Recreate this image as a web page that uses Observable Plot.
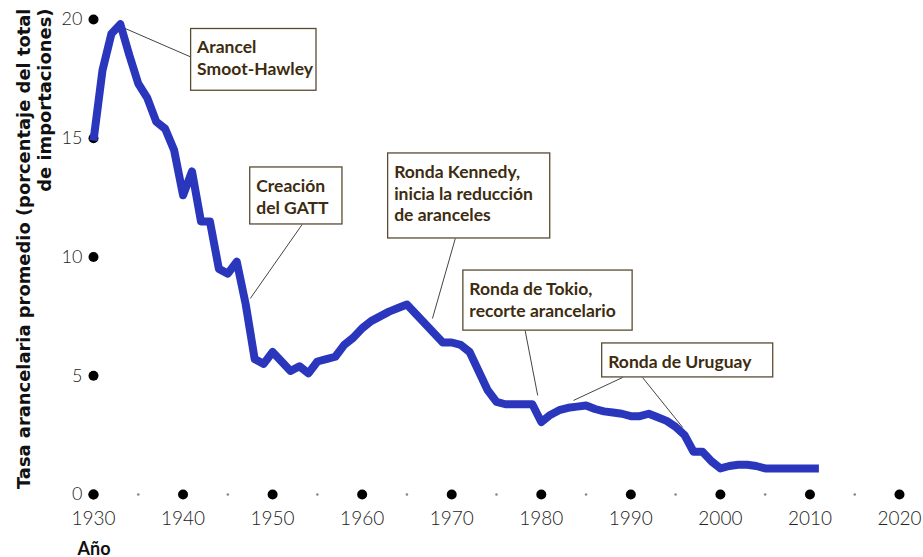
<!DOCTYPE html>
<html>
<head>
<meta charset="utf-8">
<script src="https://cdn.jsdelivr.net/npm/d3@7"></script>
<script src="https://cdn.jsdelivr.net/npm/@observablehq/plot@0.6"></script>
<style>
  body { margin: 0; background: #fff; }
  #chart svg { display: block; }
</style>
</head>
<body>
<div id="chart"></div>
<script>
// Average tariff rate (% of total imports)
const years = [1930, 1931, 1932, 1933, 1934, 1935, 1936, 1937, 1938, 1939,
               1940, 1941, 1942, 1943, 1944, 1945, 1946, 1947, 1948, 1949,
               1950, 1951, 1952, 1953, 1954, 1955, 1956, 1957, 1958, 1959,
               1960, 1961, 1962, 1963, 1964, 1965, 1966, 1967, 1968, 1969,
               1970, 1971, 1972, 1973, 1974, 1975, 1976, 1977, 1978, 1979,
               1980, 1981, 1982, 1983, 1984, 1985, 1986, 1987, 1988, 1989,
               1990, 1991, 1992, 1993, 1994, 1995, 1996, 1997, 1998, 1999,
               2000, 2001, 2002, 2003, 2004, 2005, 2006, 2007, 2008, 2009,
               2010, 2011];
const tariff = [14.9, 17.85, 19.4, 19.8, 18.5, 17.3, 16.7, 15.7, 15.4, 14.5,
                12.6, 13.6, 11.5, 11.5, 9.5, 9.3, 9.8, 8.0, 5.7, 5.5,
                6.0, 5.6, 5.2, 5.4, 5.1, 5.6, 5.7, 5.8, 6.3, 6.6,
                7.0, 7.3, 7.5, 7.7, 7.85, 8.0, 7.6, 7.2, 6.8, 6.4,
                6.4, 6.3, 6.0, 5.2, 4.4, 3.9, 3.8, 3.8, 3.8, 3.8,
                3.05, 3.35, 3.55, 3.65, 3.7, 3.75, 3.6, 3.5, 3.45, 3.4,
                3.3, 3.3, 3.4, 3.25, 3.1, 2.85, 2.5, 1.8, 1.8, 1.4,
                1.1, 1.2, 1.25, 1.25, 1.2, 1.1, 1.1, 1.1, 1.1, 1.1,
                1.1, 1.1];

const xTicks = [1930, 1940, 1950, 1960, 1970, 1980, 1990, 2000, 2010, 2020];
const xMinorTicks = [1935, 1945, 1955, 1965, 1975, 1985, 1995, 2005, 2015];
const yTicks = [0, 5, 10, 15, 20];

const xLabel = "Año";
const yLabel = "Tasa arancelaria promedio (porcentaje del total\nde importaciones)";

// Annotation boxes (data units)
const annLabels = ["Arancel\nSmoot-Hawley", "Creación\ndel GATT",
                   "Ronda Kennedy,\ninicia la reducción\nde aranceles",
                   "Ronda de Tokio,\nrecorte arancelario", "Ronda de Uruguay"];
const annX1 = [1940.9, 1947.5, 1962.9, 1971.3, 1986.8];
const annX2 = [1954.9, 1957.8, 1981.0, 1990.2, 2005.9];
const annTop = [19.6, 13.77, 14.36, 9.43, 6.36];
const annBottom = [17.0, 11.37, 10.78, 6.9, 4.93];

// Leader lines (data units): from box to the curve
const leadFromX = [1941.0, 1953.3, 1970.4, 1978.2, 1989.1, 1991.3];
const leadFromY = [18.4, 11.37, 10.78, 6.9, 4.93, 4.93];
const leadToX = [1933.3, 1947.5, 1967.85, 1979.6, 1983.6, 1995.8];
const leadToY = [19.66, 8.25, 7.41, 4.17, 3.96, 2.82];

const series = years.map((year, i) => ({year, value: tariff[i]}));
const annIdx = annLabels.map((_, i) => i);
const leadIdx = leadFromX.map((_, i) => i);

const chart = Plot.plot({
  width: 923,
  height: 557,
  marginLeft: 93,
  marginRight: 24,
  marginTop: 19,
  marginBottom: 63,
  x: {domain: [1930, 2020]},
  y: {domain: [0, 20]},
  style: {fontFamily: "Lato, sans-serif", background: "#fff", color: "#222"},
  marks: [
    Plot.axisX(xTicks, {tickSize: 0, tickPadding: 17, fontSize: 19, fontWeight: 300,
      tickFormat: d => String(d), label: null, fill: "#222"}),
    Plot.axisY(yTicks, {tickSize: 0, tickPadding: 11, fontSize: 18, fontWeight: 300,
      label: null, fill: "#222"}),
    Plot.dot(xTicks, {x: d => d, frameAnchor: "bottom", r: 5, fill: "#000", stroke: "none"}),
    Plot.dot(xMinorTicks, {x: d => d, frameAnchor: "bottom", r: 1.3, fill: "#888", stroke: "none"}),
    Plot.dot(yTicks, {y: d => d, frameAnchor: "left", r: 5, fill: "#000", stroke: "none"}),
    Plot.link(leadIdx, {x1: i => leadFromX[i], y1: i => leadFromY[i],
      x2: i => leadToX[i], y2: i => leadToY[i], stroke: "#444", strokeWidth: 1}),
    Plot.line(series, {x: "year", y: "value", stroke: "#2a36bc", strokeWidth: 8,
      strokeLinejoin: "round", strokeLinecap: "butt"}),
    Plot.rect(annIdx, {x1: i => annX1[i], x2: i => annX2[i], y1: i => annBottom[i], y2: i => annTop[i],
      fill: "#fff", stroke: "#5b4a33", strokeWidth: 1.3}),
    Plot.text(annIdx, {x: i => annX1[i], y: i => annTop[i], text: i => annLabels[i],
      textAnchor: "start", lineAnchor: "top", dx: 6, dy: 9, fontSize: 17.5, fontWeight: "bold",
      lineHeight: 1.24, fill: "#3d2c10"}),
    Plot.text([yLabel], {text: d => d, frameAnchor: "top-left", rotate: -90,
      textAnchor: "end", lineAnchor: "top", dx: -79, dy: -11, fontSize: 17.9,
      fontFamily: "'DejaVu Sans', sans-serif",
      fontWeight: "bold", lineHeight: 1.18, fill: "#111"}),
    Plot.text([xLabel], {text: d => d, frameAnchor: "bottom-left", textAnchor: "start",
      lineAnchor: "bottom", dx: -16, dy: 60, fontSize: 18, fontWeight: "bold", fill: "#111"})
  ]
});
document.getElementById("chart").append(chart);
</script>
</body>
</html>
